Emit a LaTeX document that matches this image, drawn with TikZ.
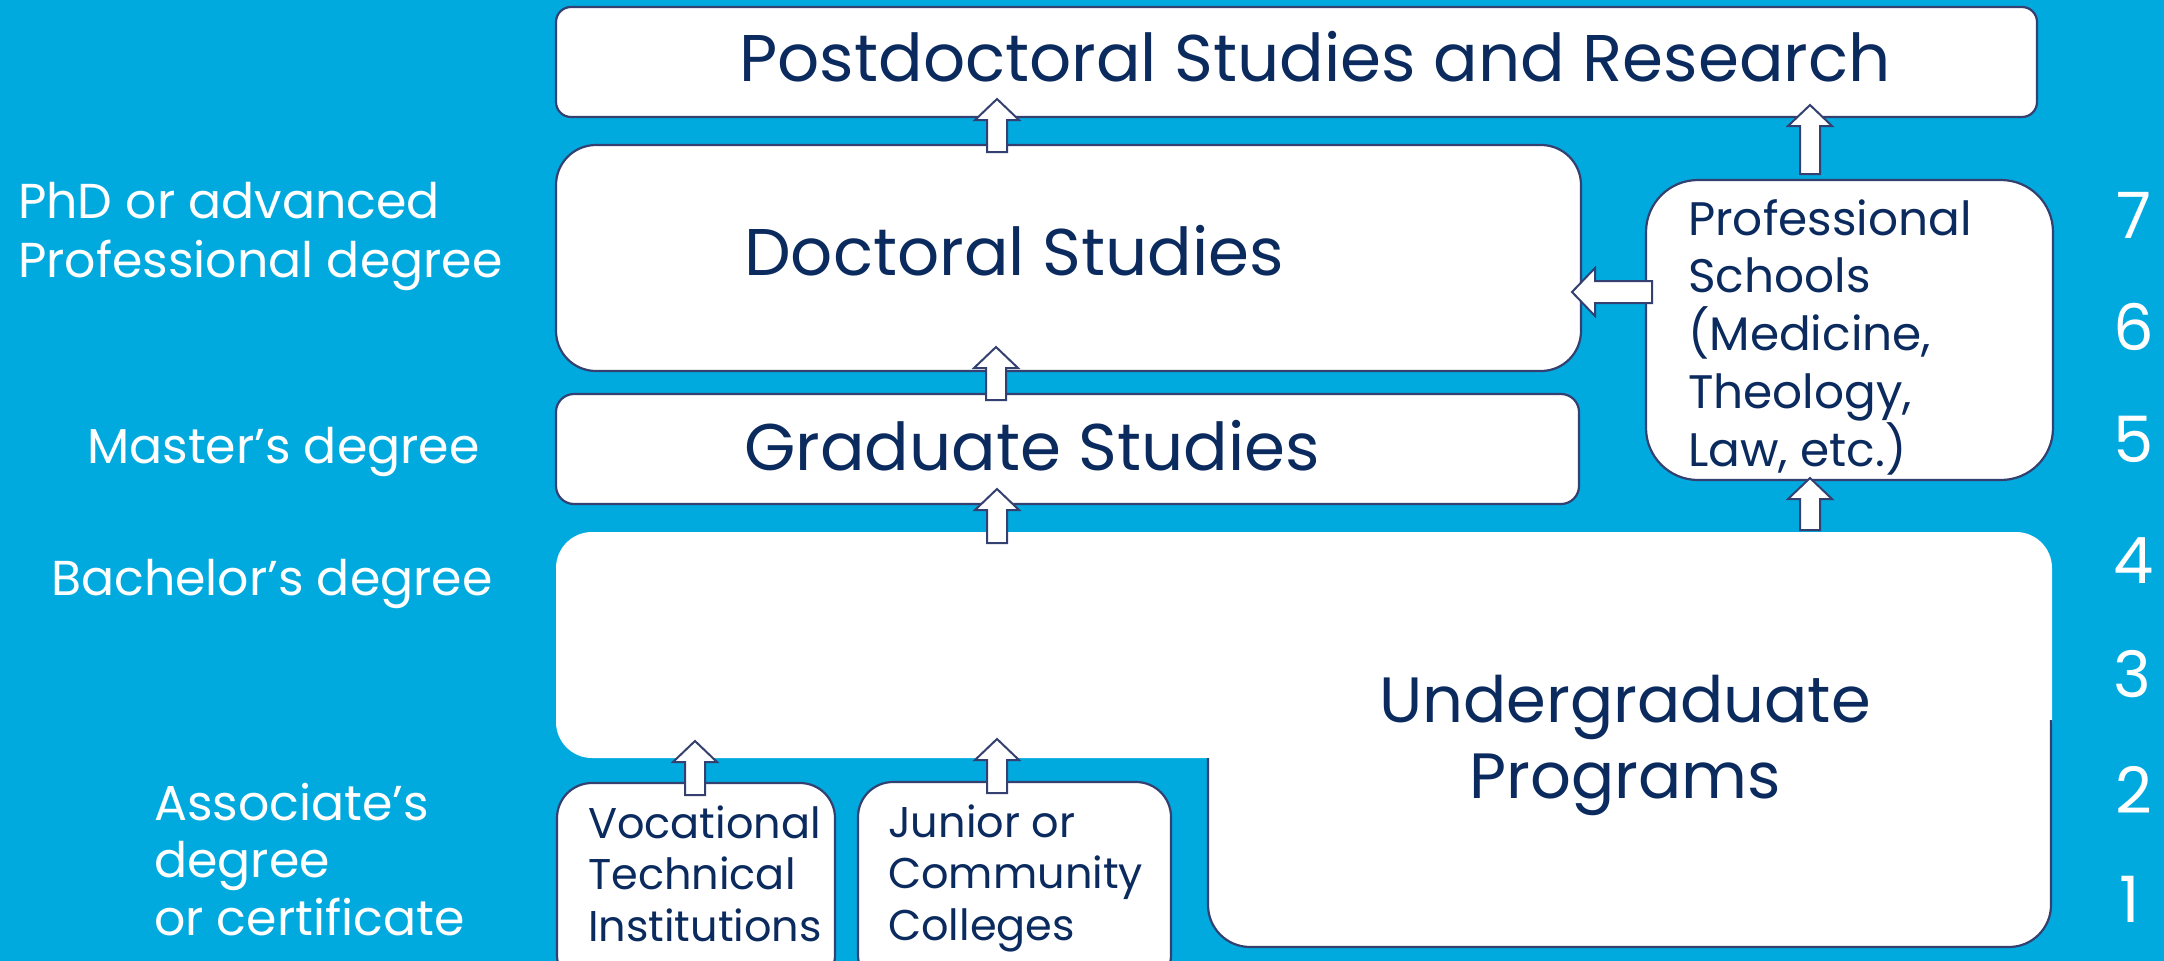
\documentclass[tikz,border=0pt]{standalone}
\usepackage{fontspec}
\setmainfont{Poppins}
\usetikzlibrary{calc}
\definecolor{bgblue}{RGB}{0,170,223}
\definecolor{navy}{RGB}{11,42,94}
\definecolor{edgecol}{RGB}{52,64,112}
\newcommand\blkup[2]{\draw[blk] let \p1=(#1), \p2=(#2) in
  (\x1-10pt,\y1) -- (\x1-10pt,\y2-21pt) -- (\x1-22pt,\y2-21pt) -- (\x1,\y2) --
  (\x1+22pt,\y2-21pt) -- (\x1+10pt,\y2-21pt) -- (\x1+10pt,\y1) -- cycle;}
\newcommand\blkleft[2]{\draw[blk] let \p1=(#1), \p2=(#2) in
  (\x1,\y1-11pt) -- (\x2+23pt,\y1-11pt) -- (\x2+23pt,\y1-24pt) -- (\x2,\y2) --
  (\x2+23pt,\y1+24pt) -- (\x2+23pt,\y1+11pt) -- (\x1,\y1+11pt) -- cycle;}
\begin{document}
\begin{tikzpicture}[x=1pt,y=-1pt,
  box/.style={draw=edgecol, line width=2.2pt, fill=white, inner sep=0pt, rectangle},
  blk/.style={draw=edgecol, line width=2pt, fill=white, line join=miter},
  maintext/.style={text=navy, inner sep=0pt, font=\fontsize{66}{76}\selectfont},
  ugtext/.style={text=navy, inner sep=0pt, align=center, font=\fontsize{64}{76}\selectfont},
  proftext/.style={text=navy, inner sep=0pt, align=left, anchor=base west, font=\fontsize{47}{57.75}\selectfont},
  smalltext/.style={text=navy, inner sep=0pt, align=left, anchor=base west, font=\fontsize{43}{51.5}\selectfont},
  sidetext/.style={text=white, inner sep=0pt, align=left, anchor=base west, font=\fontsize{49}{59}\selectfont},
  numtext/.style={text=white, inner sep=0pt, anchor=base, font=\fontsize{64}{76}\selectfont}]
\useasboundingbox (0,0) rectangle (2164,961);
\clip (0,0) rectangle (2164,961);
\fill[bgblue] (0,0) rectangle (2164,961);

% boxes
\node[box, rounded corners=15, minimum width=1481, minimum height=110] (postdoc) at (1296.5,62) {};
\node[box, rounded corners=40, minimum width=1025, minimum height=226] (doctoral) at (1068.5,258) {};
\node[box, rounded corners=18, minimum width=1023, minimum height=110] (graduate) at (1067.5,449) {};
\node[box, rounded corners=52, minimum width=407, minimum height=300] (professional) at (1849.5,330) {};
\node[box, rounded corners=35, minimum width=278, minimum height=207] (vocational) at (696,886.5) {};
\node[box, rounded corners=35, minimum width=313, minimum height=208] (junior) at (1014.5,886) {};

% undergraduate L-shaped block
\fill[white, rounded corners=36] (556,532) rectangle (2052,758);
\fill[white, rounded corners=42] (1208,600) rectangle (2051,947);
\draw[edgecol, line width=2.2pt, rounded corners=42] (1208,758) -- (1208,947) -- (2051,947) -- (2051,720);
\coordinate (undergrad) at (1630,740);

% texts (multi-line nodes: base = baseline of last line)
\node[maintext, anchor=base] (tpost) at (1315,81) {Postdoctoral Studies and Research};
\node[maintext, anchor=base] (tdoc) at (1014,275) {Doctoral Studies};
\node[maintext, anchor=base] (tgrad) at (1032,470) {Graduate Studies};
\node[ugtext, anchor=base] (tug) at (1625,798) {Undergraduate\\Programs};
\node[proftext] (tprof) at (1688,466) {Professional\\Schools\\(Medicine,\\Theology,\\Law, etc.)};
\node[smalltext] (tvoc) at (588,941) {Vocational\\Technical\\Institutions};
\node[smalltext] (tjun) at (888,940) {Junior or\\Community\\Colleges};

% side labels
\node[sidetext] (lphd) at (18,277) {PhD or advanced\\Professional degree};
\node[sidetext] (lmas) at (87,463) {Master’s degree};
\node[sidetext] (lbach) at (51,595) {Bachelor’s degree};
\node[sidetext, font=\fontsize{49}{57.5}\selectfont] (lassoc) at (154,935) {Associate’s\\degree\\or certificate};

% numbers
\node[numtext] (n7) at (2134,238) {7};
\node[numtext] (n6) at (2134,350) {6};
\node[numtext] (n5) at (2134,462) {5};
\node[numtext] (n4) at (2134,583) {4};
\node[numtext] (n3) at (2132,697) {3};
\node[numtext] (n2) at (2134,813) {2};
\node[numtext] (n1) at (2130,922) {1};

% arrow anchor points
\coordinate (a1s) at (997,152);  \coordinate (a1t) at (997,99);
\coordinate (a2s) at (996,400);  \coordinate (a2t) at (996,347);
\coordinate (a3s) at (997,543);  \coordinate (a3t) at (997,489);
\coordinate (a4s) at (695,795);  \coordinate (a4t) at (695,741);
\coordinate (a5s) at (997,793);  \coordinate (a5t) at (997,739);
\coordinate (a6s) at (1810,530); \coordinate (a6t) at (1810,478);
\coordinate (a7s) at (1810,174); \coordinate (a7t) at (1810,105);
\coordinate (a8s) at (1652,292); \coordinate (a8t) at (1572,292);

\blkup{a1s}{a1t}
\blkup{a2s}{a2t}
\blkup{a3s}{a3t}
\blkup{a4s}{a4t}
\blkup{a5s}{a5t}
\blkup{a6s}{a6t}
\blkup{a7s}{a7t}
\blkleft{a8s}{a8t}
\end{tikzpicture}
\end{document}
